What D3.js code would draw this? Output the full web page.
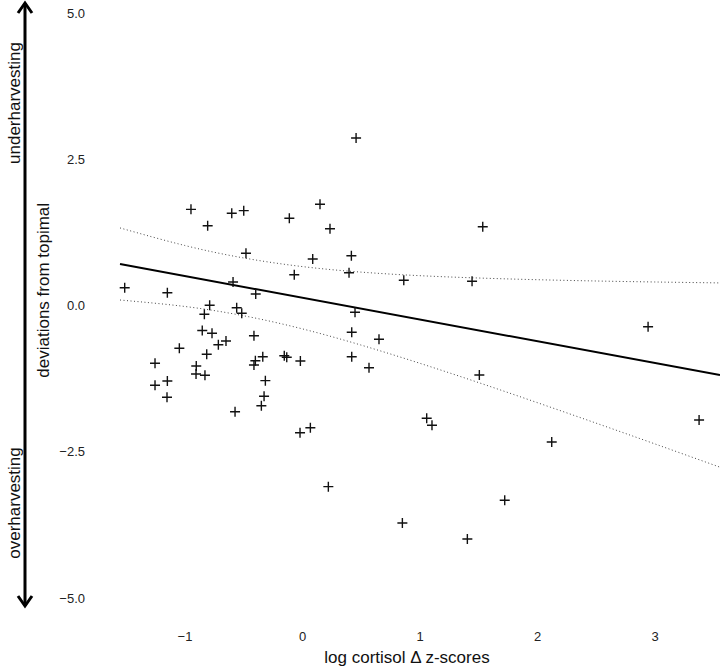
<!DOCTYPE html>
<html>
<head>
<meta charset="utf-8">
<script src="https://cdn.jsdelivr.net/npm/d3@7"></script>
<style>
  html, body { margin: 0; padding: 0; background: #fff; }
  svg { display: block; font-family: "Liberation Sans", Arial, Helvetica, sans-serif; }
</style>
</head>
<body>
<svg id="chart" width="720" height="669"></svg>
<script>
// ---- data ----
const pointX = [-1.509,-1.146,-0.945,-0.803,-0.598,-0.496,-0.108,0.153,0.238,0.460,
                -0.477,0.091,-0.066,-0.587,-0.394,0.420,0.400,0.866,1.447,1.538,
                -0.786,-0.556,-0.831,-0.513,-0.849,-0.766,-0.409,-0.647,-0.712,-1.044,
                -0.811,-1.251,-0.900,-0.397,-0.334,-0.409,-0.151,-0.130,-0.014,-0.902,
                -0.826,-1.146,-1.251,-0.312,-0.323,-1.149,-0.346,-0.570,-0.017,0.071,
                0.451,0.423,0.655,0.423,0.570,1.509,1.061,1.106,0.224,1.725,
                0.854,1.407,2.945,3.379,2.125];
const pointY = [0.304,0.219,1.644,1.364,1.576,1.621,1.491,1.730,1.313,2.863,
                0.892,0.795,0.526,0.402,0.197,0.851,0.561,0.431,0.414,1.347,
                0.003,-0.039,-0.150,-0.133,-0.427,-0.475,-0.518,-0.607,-0.670,-0.732,
                -0.834,-0.988,-1.034,-0.944,-0.875,-1.017,-0.858,-0.885,-0.949,-1.171,
                -1.193,-1.291,-1.364,-1.285,-1.552,-1.569,-1.713,-1.815,-2.174,-2.089,
                -0.116,-0.458,-0.578,-0.875,-1.063,-1.188,-1.928,-2.048,-3.097,-3.330,
                -3.718,-3.991,-0.362,-1.957,-2.333];

const fitX = [-1.549, 3.557];
const fitY = [0.709, -1.188];

const bandX     = [-1.549, -1.0, -0.5, 0.0, 0.5, 1.0, 1.5, 2.0, 2.5, 3.0, 3.557];
const bandUpper = [1.326, 1.027, 0.814, 0.666, 0.571, 0.510, 0.470, 0.441, 0.419, 0.402, 0.386];
const bandLower = [0.094, -0.016, -0.174, -0.398, -0.675, -0.986, -1.316, -1.659, -2.009, -2.364, -2.764];

const xTicks = [-1, 0, 1, 2, 3];
const yTicks = [5, 2.5, 0, -2.5, -5];

const xTitle = "log cortisol \u0394 z-scores";
const yTitle = "deviations from topimal";
const topLabel = "underharvesting";
const bottomLabel = "overharvesting";

// ---- scales ----
const svg = d3.select("#chart");
const x = d3.scaleLinear().domain([-1.549, 3.557]).range([120, 720]);
const y = d3.scaleLinear().domain([-5, 5]).range([598, 13]);

// ---- confidence band (dotted) ----
const bandLine = (vals) => d3.line()
  .x((d, i) => x(bandX[i]))
  .y((d) => y(d))
  .curve(d3.curveNatural)(vals);

svg.append("path").attr("d", bandLine(bandUpper))
  .attr("fill", "none").attr("stroke", "#444").attr("stroke-width", 1)
  .attr("stroke-dasharray", "1,2.5");
svg.append("path").attr("d", bandLine(bandLower))
  .attr("fill", "none").attr("stroke", "#444").attr("stroke-width", 1)
  .attr("stroke-dasharray", "1,2.5");

// ---- regression line ----
svg.append("path")
  .attr("d", d3.line().x((d, i) => x(fitX[i])).y(d => y(d))(fitY))
  .attr("fill", "none").attr("stroke", "#000").attr("stroke-width", 2);

// ---- points (plus markers) ----
const arm = 5;
const pts = pointX.map((v, i) => [v, pointY[i]]);
svg.append("g").selectAll("path").data(pts).join("path")
  .attr("d", d => {
    const cx = x(d[0]), cy = y(d[1]);
    return `M${cx - arm},${cy}H${cx + arm}M${cx},${cy - arm}V${cy + arm}`;
  })
  .attr("stroke", "#111").attr("stroke-width", 1.4).attr("fill", "none");

// ---- x axis (labels only) ----
const xAxis = d3.axisBottom(x).tickValues(xTicks)
  .tickFormat(d => d3.format("d")(d).replace("-", "\u2212"))
  .tickSize(0).tickPadding(0);
const gx = svg.append("g").attr("transform", "translate(0,632)").call(xAxis);
gx.select(".domain").remove();
gx.selectAll("text").attr("font-size", 13).attr("fill", "#222")
  .attr("font-family", "Liberation Sans, Arial, sans-serif");

svg.append("text").attr("x", 407).attr("y", 663)
  .attr("text-anchor", "middle").attr("font-size", 17).attr("fill", "#111")
  .text(xTitle);

// ---- y axis (labels only, right of arrow) ----
const yAxis = d3.axisLeft(y).tickValues(yTicks)
  .tickFormat(d => d3.format(".1f")(d).replace("-", "\u2212"))
  .tickSize(0).tickPadding(0);
const gy = svg.append("g").attr("transform", "translate(85,0)").call(yAxis);
gy.select(".domain").remove();
gy.selectAll("text").attr("font-size", 13).attr("fill", "#222")
  .attr("font-family", "Liberation Sans, Arial, sans-serif");

// ---- y title ----
svg.append("text")
  .attr("transform", `translate(49, ${y(0.26)}) rotate(-90)`)
  .attr("text-anchor", "middle").attr("font-size", 17).attr("fill", "#111")
  .text(yTitle);

// ---- double arrow ----
const ax = 25, aTop = 2, aBot = 607;
svg.append("line").attr("x1", ax).attr("x2", ax).attr("y1", aTop + 1).attr("y2", aBot - 1)
  .attr("stroke", "#000").attr("stroke-width", 3);
svg.append("path")
  .attr("d", `M${ax - 7},${aTop + 11}L${ax},${aTop + 1}L${ax + 7},${aTop + 11}`)
  .attr("fill", "none").attr("stroke", "#000").attr("stroke-width", 3)
  .attr("stroke-linecap", "butt").attr("stroke-linejoin", "miter");
svg.append("path")
  .attr("d", `M${ax - 7},${aBot - 11}L${ax},${aBot - 1}L${ax + 7},${aBot - 11}`)
  .attr("fill", "none").attr("stroke", "#000").attr("stroke-width", 3)
  .attr("stroke-linecap", "butt").attr("stroke-linejoin", "miter");

svg.append("text")
  .attr("transform", `translate(14, 103) rotate(-90)`)
  .attr("text-anchor", "middle").attr("dominant-baseline", "central")
  .attr("font-size", 17).attr("fill", "#111").text(topLabel);
svg.append("text")
  .attr("transform", `translate(14, 503) rotate(-90)`)
  .attr("text-anchor", "middle").attr("dominant-baseline", "central")
  .attr("font-size", 17).attr("fill", "#111").text(bottomLabel);
</script>
</body>
</html>
